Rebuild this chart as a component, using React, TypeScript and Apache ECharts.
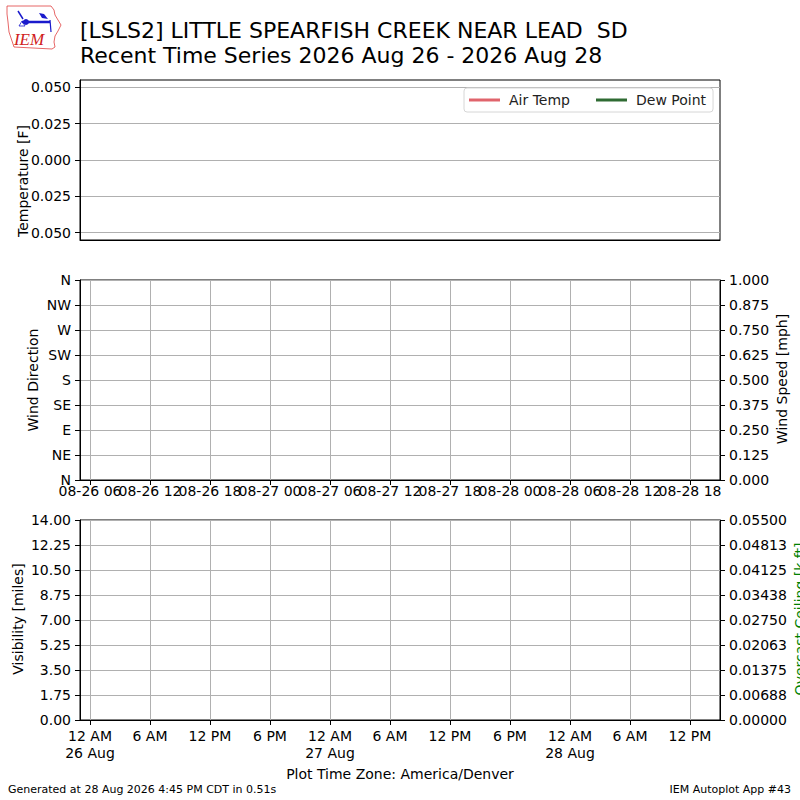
import React, { useEffect, useRef } from "react";
import * as echarts from "echarts";

// ---- data (the station reported nothing in this window) ----
const airTemp: [number, number][] = [];
const dewPoint: [number, number][] = [];
const windDirection: [number, number][] = [];
const windSpeed: [number, number][] = [];
const visibility: [number, number][] = [];
const ceiling: [number, number][] = [];

// hours since 26 Aug 00:00 (America/Denver)
const timeMin = -1;
const timeMax = 63;
const tickHours = [0, 6, 12, 18, 24, 30, 36, 42, 48, 54, 60];
const windTickLabels = [
  "08-26 06", "08-26 12", "08-26 18", "08-27 00", "08-27 06", "08-27 12",
  "08-27 18", "08-28 00", "08-28 06", "08-28 12", "08-28 18",
];
const timeTickLabels = [
  "12 AM\n26 Aug", "6 AM", "12 PM", "6 PM", "12 AM\n27 Aug", "6 AM",
  "12 PM", "6 PM", "12 AM\n28 Aug", "6 AM", "12 PM",
];
const tempTicks = [-0.05, -0.025, 0, 0.025, 0.05];
const tempTickLabels = ["0.050", "0.025", "0.000", "0.025", "0.050"];
const dirTickLabels = ["N", "NE", "E", "SE", "S", "SW", "W", "NW", "N"];
const speedTickLabels = ["0.000", "0.125", "0.250", "0.375", "0.500", "0.625", "0.750", "0.875", "1.000"];
const visTickLabels = ["0.00", "1.75", "3.50", "5.25", "7.00", "8.75", "10.50", "12.25", "14.00"];
const ceilTickLabels = ["0.00000", "0.00688", "0.01375", "0.02063", "0.02750", "0.03438", "0.04125", "0.04813", "0.05500"];

const FONT = "DejaVu Sans";
const GRID_COLOR = "#b0b0b0";

const labelStyle = { color: "#000", fontFamily: FONT, fontSize: 14 };
const tickStyle = { show: true, inside: false, length: 5, lineStyle: { color: "#000", width: 1 } };
const lineStyle = { show: true, onZero: false, lineStyle: { color: "#000", width: 1 } };
const gridLine = { show: true, lineStyle: { color: GRID_COLOR, width: 1 } };

export default function App() {
  const ref = useRef<HTMLDivElement>(null);
  useEffect(() => {
    const chart = echarts.init(ref.current!, null, { renderer: "svg" });
    const idxOf = (v: number, step: number) => Math.round(v / step);
    const evenHours = tickHours.filter((_, i) => i % 2 === 0);
    const oddHours = tickHours.filter((_, i) => i % 2 === 1);
    const windLabel = (v: number) => windTickLabels[tickHours.indexOf(Math.round(v))] ?? "";
    const option: any = {
      animation: false,
      backgroundColor: "#fff",
      textStyle: { fontFamily: FONT },
      grid: [
        { left: 80, top: 80, width: 640, height: 160, show: true, borderColor: "#000", borderWidth: 1, backgroundColor: "transparent" },
        { left: 80, top: 280, width: 640, height: 200, show: true, borderColor: "#000", borderWidth: 1, backgroundColor: "transparent" },
        { left: 80, top: 520, width: 640, height: 200, show: true, borderColor: "#000", borderWidth: 1, backgroundColor: "transparent" },
      ],
      xAxis: [
        {
          gridIndex: 0, type: "value", min: timeMin, max: timeMax,
          axisLine: lineStyle, axisTick: { show: false }, axisLabel: { show: false }, splitLine: { show: false },
        },
        {
          gridIndex: 1, type: "value", min: timeMin, max: timeMax, position: "bottom",
          axisLine: lineStyle,
          axisTick: { ...tickStyle, customValues: tickHours },
          axisLabel: {
            ...labelStyle, margin: 4, customValues: evenHours, interval: 0, hideOverlap: false,
            showMinLabel: true, showMaxLabel: true, formatter: windLabel,
          },
          splitLine: { ...gridLine, customValues: tickHours },
        },
        {
          gridIndex: 2, type: "value", min: timeMin, max: timeMax,
          axisLine: lineStyle,
          axisTick: { ...tickStyle, customValues: tickHours },
          axisLabel: {
            ...labelStyle, margin: 7, lineHeight: 17, customValues: tickHours, interval: 0, hideOverlap: false,
            showMinLabel: true, showMaxLabel: true,
            formatter: (v: number) => timeTickLabels[tickHours.indexOf(Math.round(v))] ?? "",
          },
          splitLine: gridLine,
        },
        {
          // second label row of the wind panel (the labels overlap in the original)
          gridIndex: 1, type: "value", min: timeMin, max: timeMax, position: "bottom", offset: 0,
          axisLine: { show: false, onZero: false }, axisTick: { show: false }, splitLine: { show: false },
          axisLabel: {
            ...labelStyle, margin: 4, customValues: oddHours, interval: 0, hideOverlap: false,
            showMinLabel: true, showMaxLabel: true, formatter: windLabel,
          },
        },
      ],
      yAxis: [
        {
          gridIndex: 0, type: "value", min: -0.055, max: 0.055,
          axisLine: lineStyle,
          axisTick: { ...tickStyle, customValues: tempTicks },
          axisLabel: {
            ...labelStyle, margin: 9, customValues: tempTicks,
            formatter: (v: number) => tempTickLabels[idxOf(v + 0.05, 0.025)] ?? "",
          },
          splitLine: gridLine,
        },
        {
          gridIndex: 1, type: "value", min: 0, max: 360, interval: 45,
          axisLine: lineStyle, axisTick: tickStyle,
          axisLabel: { ...labelStyle, margin: 9, formatter: (v: number) => dirTickLabels[idxOf(v, 45)] ?? "" },
          splitLine: gridLine,
        },
        {
          gridIndex: 1, type: "value", position: "right", min: 0, max: 1, interval: 0.125,
          axisLine: lineStyle, axisTick: tickStyle,
          axisLabel: { ...labelStyle, margin: 9, formatter: (v: number) => speedTickLabels[idxOf(v, 0.125)] ?? "" },
          splitLine: { show: false },
        },
        {
          gridIndex: 2, type: "value", min: 0, max: 14, interval: 1.75,
          axisLine: lineStyle, axisTick: tickStyle,
          axisLabel: { ...labelStyle, margin: 9, formatter: (v: number) => visTickLabels[idxOf(v, 1.75)] ?? "" },
          splitLine: gridLine,
        },
        {
          gridIndex: 2, type: "value", position: "right", min: 0, max: 0.055, interval: 0.006875,
          axisLine: lineStyle, axisTick: tickStyle,
          axisLabel: { ...labelStyle, margin: 9, formatter: (v: number) => ceilTickLabels[idxOf(v, 0.006875)] ?? "" },
          splitLine: { show: false },
        },
      ],
      legend: {
        data: ["Air Temp", "Dew Point"],
        left: 464, top: 88,
        padding: [5, 7, 5, 5],
        icon: "rect",
        itemWidth: 31, itemHeight: 3, itemGap: 26,
        borderColor: "#d6d6d6", borderWidth: 1, borderRadius: 3,
        backgroundColor: "#fff",
        textStyle: { ...labelStyle, color: "#222", padding: [0, 0, 0, 4] },
      },
      series: [
        { name: "Air Temp", type: "line", xAxisIndex: 0, yAxisIndex: 0, data: airTemp, symbol: "none", color: "#e0646c", lineStyle: { width: 2.5, color: "#e0646c" } },
        { name: "Dew Point", type: "line", xAxisIndex: 0, yAxisIndex: 0, data: dewPoint, symbol: "none", color: "#2f6b33", lineStyle: { width: 2.5, color: "#2f6b33" } },
        { name: "Wind Direction", type: "scatter", xAxisIndex: 1, yAxisIndex: 1, data: windDirection, color: "#1f77b4" },
        { name: "Wind Speed", type: "line", xAxisIndex: 1, yAxisIndex: 2, data: windSpeed, symbol: "none", color: "#ff7f0e" },
        { name: "Visibility", type: "line", xAxisIndex: 2, yAxisIndex: 3, data: visibility, symbol: "none", color: "#1f77b4" },
        { name: "Overcast Ceiling", type: "line", xAxisIndex: 2, yAxisIndex: 4, data: ceiling, symbol: "none", color: "#008000" },
      ],
      graphic: [
        // IEM logo
        {
          type: "polyline",
          shape: {
            points: [[7, 6], [51, 6], [54, 10], [55, 15], [58, 20], [61, 25], [58, 31], [55, 36], [54, 42], [55, 47], [52, 49], [14, 47], [12, 41], [9, 32], [8, 22], [7, 14], [7, 6]],
          },
          style: { stroke: "#e04040", lineWidth: 0.8, fill: "none" },
        },
        { type: "line", shape: { x1: 22, y1: 22, x2: 50, y2: 22 }, style: { stroke: "#1a1acc", lineWidth: 2.5 } },
        { type: "line", shape: { x1: 18, y1: 11, x2: 23, y2: 19 }, style: { stroke: "#1a1acc", lineWidth: 1.5 } },
        { type: "circle", shape: { cx: 26, cy: 22, r: 3 }, style: { fill: "#1a1acc" } },
        { type: "polygon", shape: { points: [[39, 13], [44, 14], [48, 19], [42, 18]] }, style: { fill: "#1a1acc" } },
        { type: "line", shape: { x1: 50, y1: 20, x2: 51, y2: 32 }, style: { stroke: "#1a1acc", lineWidth: 1.2 } },
        { type: "polygon", shape: { points: [[19, 26], [22, 21], [25, 26]] }, style: { fill: "none", stroke: "#1a1acc", lineWidth: 0.8 } },
        {
          type: "text", x: 29, y: 39,
          style: { text: "IEM", fontFamily: "Liberation Serif", fontStyle: "italic", fontSize: 17, fill: "#d02020", align: "center", verticalAlign: "middle" },
        },
        // title
        { type: "text", x: 80, y: 30, style: { text: "[LSLS2] LITTLE SPEARFISH CREEK NEAR LEAD  SD", fontFamily: FONT, fontSize: 22, fill: "#000", align: "left", verticalAlign: "middle" } },
        { type: "text", x: 80, y: 55.5, style: { text: "Recent Time Series 2026 Aug 26 - 2026 Aug 28", fontFamily: FONT, fontSize: 22, fill: "#000", align: "left", verticalAlign: "middle" } },
        // axis titles
        { type: "text", x: 23, y: 181, rotation: Math.PI / 2, style: { text: "Temperature [F]", fontFamily: FONT, fontSize: 14, fill: "#000", align: "center", verticalAlign: "middle" } },
        { type: "text", x: 33, y: 380, rotation: Math.PI / 2, style: { text: "Wind Direction", fontFamily: FONT, fontSize: 14, fill: "#000", align: "center", verticalAlign: "middle" } },
        { type: "text", x: 782, y: 379, rotation: Math.PI / 2, style: { text: "Wind Speed [mph]", fontFamily: FONT, fontSize: 14, fill: "#000", align: "center", verticalAlign: "middle" } },
        { type: "text", x: 18, y: 619, rotation: Math.PI / 2, style: { text: "Visibility [miles]", fontFamily: FONT, fontSize: 14, fill: "#000", align: "center", verticalAlign: "middle" } },
        { type: "text", x: 800, y: 619, rotation: Math.PI / 2, style: { text: "Overcast Ceiling [k ft]", fontFamily: FONT, fontSize: 14, fill: "#008000", align: "center", verticalAlign: "middle" } },
        { type: "text", x: 400, y: 774, style: { text: "Plot Time Zone: America/Denver", fontFamily: FONT, fontSize: 14, fill: "#000", align: "center", verticalAlign: "middle" } },
        // footer
        { type: "text", x: 8, y: 789, style: { text: "Generated at 28 Aug 2026 4:45 PM CDT in 0.51s", fontFamily: FONT, fontSize: 11, fill: "#000", align: "left", verticalAlign: "middle" } },
        { type: "text", x: 791, y: 789, style: { text: "IEM Autoplot App #43", fontFamily: FONT, fontSize: 11, fill: "#000", align: "right", verticalAlign: "middle" } },
      ],
    };
    chart.setOption(option);
    return () => chart.dispose();
  }, []);
  return <div ref={ref} style={{ position: "fixed", left: 0, top: 0, width: 800, height: 800 }} />;
}
